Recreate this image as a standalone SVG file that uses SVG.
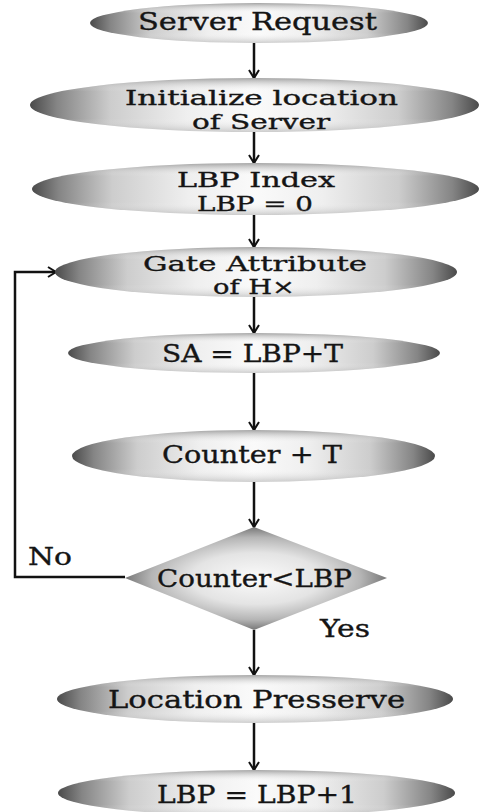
<svg xmlns="http://www.w3.org/2000/svg" width="479" height="812" viewBox="0 0 479 812">
<defs>
<linearGradient id="hg" x1="0" y1="0" x2="1" y2="0">
<stop offset="0" stop-color="#4a4a4a"/>
<stop offset="0.06" stop-color="#858585"/>
<stop offset="0.18" stop-color="#cdcdcd"/>
<stop offset="0.35" stop-color="#efefef"/>
<stop offset="0.5" stop-color="#fafafa"/>
<stop offset="0.65" stop-color="#efefef"/>
<stop offset="0.82" stop-color="#cdcdcd"/>
<stop offset="0.94" stop-color="#858585"/>
<stop offset="1" stop-color="#4a4a4a"/>
</linearGradient>
<linearGradient id="vg" x1="0" y1="0" x2="0" y2="1">
<stop offset="0" stop-color="#6a6a6a" stop-opacity="0.6"/>
<stop offset="0.25" stop-color="#ffffff" stop-opacity="0"/>
<stop offset="0.75" stop-color="#ffffff" stop-opacity="0"/>
<stop offset="1" stop-color="#8a8a8a" stop-opacity="0.4"/>
</linearGradient>
<radialGradient id="dg" cx="0.5" cy="0.5" r="0.5">
<stop offset="0" stop-color="#fbfbfb"/>
<stop offset="0.5" stop-color="#e4e4e4"/>
<stop offset="0.8" stop-color="#b5b5b5"/>
<stop offset="1" stop-color="#777777"/>
</radialGradient>
<marker id="ah" viewBox="-1 -7 11 14" refX="8" refY="0" markerWidth="11" markerHeight="14" markerUnits="userSpaceOnUse" orient="auto">
<path d="M0,-5 L8,0 L0,5" fill="none" stroke="#111" stroke-width="2"/>
</marker>
</defs>
<style>
.sh{fill:url(#hg);}
.sv{fill:url(#vg);}
.t{font-family:"DejaVu Serif","Liberation Serif",serif;font-size:24px;fill:#151515;stroke:#151515;stroke-width:0.35;}
.s{font-size:20px;}
.c{fill:none;stroke:#111;stroke-width:2.5;}
</style>
<rect width="479" height="812" fill="#ffffff"/>
<g id="connectors">
<line class="c" x1="254" y1="43" x2="254" y2="78" marker-end="url(#ah)"/>
<line class="c" x1="254" y1="132" x2="254" y2="163" marker-end="url(#ah)"/>
<line class="c" x1="254" y1="215" x2="254" y2="247" marker-end="url(#ah)"/>
<line class="c" x1="254" y1="297" x2="254" y2="333" marker-end="url(#ah)"/>
<line class="c" x1="254" y1="373" x2="254" y2="430" marker-end="url(#ah)"/>
<line class="c" x1="254" y1="482" x2="254" y2="527" marker-end="url(#ah)"/>
<line class="c" x1="254" y1="630" x2="254" y2="675" marker-end="url(#ah)"/>
<line class="c" x1="254" y1="723" x2="254" y2="770" marker-end="url(#ah)"/>
<polyline class="c" points="125,577 15,577 15,272 56,272" marker-end="url(#ah)"/>
<text class="t" x="28" y="565" textLength="44" lengthAdjust="spacingAndGlyphs">No</text>
<text class="t" x="320" y="637" textLength="50" lengthAdjust="spacingAndGlyphs">Yes</text>
</g>
<g id="n1">
<ellipse class="sh" cx="259" cy="23" rx="169" ry="20"/>
<ellipse class="sv" cx="259" cy="23" rx="169" ry="20"/>
<text class="t" x="138" y="30" textLength="239" lengthAdjust="spacingAndGlyphs">Server Request</text>
</g>
<g id="n2">
<ellipse class="sh" cx="254.5" cy="105" rx="224.5" ry="27"/>
<ellipse class="sv" cx="254.5" cy="105" rx="224.5" ry="27"/>
<text class="t s" x="125" y="105" textLength="273" lengthAdjust="spacingAndGlyphs">Initialize location</text>
<text class="t s" x="192" y="129" textLength="138" lengthAdjust="spacingAndGlyphs">of Server</text>
</g>
<g id="n3">
<ellipse class="sh" cx="255.5" cy="189" rx="223.5" ry="26"/>
<ellipse class="sv" cx="255.5" cy="189" rx="223.5" ry="26"/>
<text class="t s" x="177" y="187" textLength="158" lengthAdjust="spacingAndGlyphs">LBP Index</text>
<text class="t s" x="197" y="211" textLength="116" lengthAdjust="spacingAndGlyphs">LBP = 0</text>
</g>
<g id="n4">
<ellipse class="sh" cx="256" cy="272" rx="201" ry="25"/>
<ellipse class="sv" cx="256" cy="272" rx="201" ry="25"/>
<text class="t s" x="143" y="271" textLength="224" lengthAdjust="spacingAndGlyphs">Gate Attribute</text>
<text class="t s" x="213" y="294" textLength="82" lengthAdjust="spacingAndGlyphs">of H×</text>
</g>
<g id="n5">
<ellipse class="sh" cx="254" cy="353" rx="186" ry="20"/>
<ellipse class="sv" cx="254" cy="353" rx="186" ry="20"/>
<text class="t" x="162" y="362" textLength="181" lengthAdjust="spacingAndGlyphs">SA = LBP+T</text>
</g>
<g id="n6">
<ellipse class="sh" cx="253.5" cy="456" rx="181.5" ry="26"/>
<ellipse class="sv" cx="253.5" cy="456" rx="181.5" ry="26"/>
<text class="t" x="162" y="463" textLength="180" lengthAdjust="spacingAndGlyphs">Counter + T</text>
</g>
<g id="n7">
<polygon points="254,527 387,578 254,630 125,578" fill="url(#dg)"/>
<text class="t" x="157" y="587" textLength="195" lengthAdjust="spacingAndGlyphs">Counter&lt;LBP</text>
</g>
<g id="n8">
<ellipse class="sh" cx="255" cy="699" rx="198" ry="24"/>
<ellipse class="sv" cx="255" cy="699" rx="198" ry="24"/>
<text class="t" x="108" y="708" textLength="297" lengthAdjust="spacingAndGlyphs">Location Presserve</text>
</g>
<g id="n9">
<ellipse class="sh" cx="256.5" cy="793" rx="198.5" ry="23"/>
<ellipse class="sv" cx="256.5" cy="793" rx="198.5" ry="23"/>
<text class="t" x="157" y="803" textLength="200" lengthAdjust="spacingAndGlyphs">LBP = LBP+1</text>
</g>
</svg>
